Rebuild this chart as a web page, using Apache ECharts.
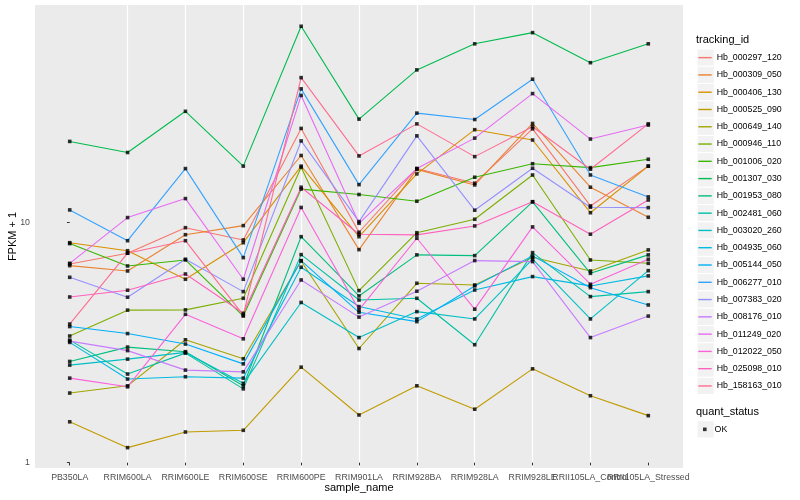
<!DOCTYPE html>
<html><head><meta charset="utf-8">
<script src="https://cdn.jsdelivr.net/npm/echarts@6/dist/echarts.min.js"></script>
<style>html,body{margin:0;padding:0;background:#fff}#c{width:800px;height:500px}</style>
</head><body><div id="c"></div>
<script>
// ---- data (FPKM + 1) ----
const samples = ["PB350LA","RRIM600LA","RRIM600LE","RRIM600SE","RRIM600PE","RRIM901LA","RRIM928BA","RRIM928LA","RRIM928LE","RRII105LA_Control","RRII105LA_Stressed"];
const trackingIds = ["Hb_000297_120","Hb_000309_050","Hb_000406_130","Hb_000525_090","Hb_000649_140","Hb_000946_110","Hb_001006_020","Hb_001307_030","Hb_001953_080","Hb_002481_060","Hb_003020_260","Hb_004935_060","Hb_005144_050","Hb_006277_010","Hb_007383_020","Hb_008176_010","Hb_011249_020","Hb_012022_050","Hb_025098_010","Hb_158163_010"];
const hb_000297_120 = [6.73, 7.46, 9.53, 8.47, 24.7, 9.12, 16.8, 14.6, 24.6, 11.74, 17.2];
const hb_000309_050 = [6.62, 6.29, 8.91, 9.72, 19.05, 7.72, 16.67, 14.36, 25.9, 14.05, 10.53];
const hb_000406_130 = [8.25, 7.64, 5.81, 8.25, 17.2, 8.74, 15.96, 24.4, 22.1, 11.0, 17.2];
const hb_000525_090 = [1.48, 1.155, 1.342, 1.364, 2.50, 1.58, 2.09, 1.67, 2.46, 1.90, 1.57];
const hb_000649_140 = [1.95, 2.09, 3.25, 2.71, 6.92, 2.99, 5.59, 5.50, 7.17, 6.29, 7.70];
const hb_000946_110 = [3.37, 4.32, 4.33, 4.84, 17.0, 5.21, 9.08, 10.33, 15.8, 6.99, 6.77];
const hb_001006_020 = [8.18, 6.60, 6.99, 4.08, 13.8, 13.1, 12.28, 15.46, 17.6, 16.95, 18.37];
const hb_001307_030 = [21.8, 19.6, 29.1, 17.2, 65.8, 27.0, 43.3, 55.6, 61.9, 46.4, 55.6];
const hb_001953_080 = [2.64, 3.03, 2.90, 2.09, 8.74, 4.95, 7.34, 7.29, 12.2, 6.15, 7.34];
const hb_002481_060 = [3.24, 2.34, 2.86, 2.03, 7.36, 4.76, 4.84, 3.10, 7.50, 4.92, 5.16];
const hb_003020_260 = [2.55, 2.70, 2.88, 2.14, 4.65, 3.32, 4.26, 3.97, 7.04, 3.97, 6.31];
const hb_004935_060 = [3.17, 2.23, 2.28, 2.25, 6.52, 4.47, 3.97, 5.24, 5.96, 5.45, 6.00];
const hb_005144_050 = [3.69, 3.45, 3.12, 2.58, 6.95, 4.23, 3.87, 5.45, 7.27, 5.36, 4.54];
const hb_006277_010 = [11.3, 8.41, 16.8, 7.15, 36.1, 14.4, 28.6, 26.9, 39.6, 15.8, 12.8];
const hb_007383_020 = [5.92, 4.89, 7.04, 5.16, 21.9, 10.1, 23.0, 11.27, 16.85, 11.6, 11.55];
const hb_008176_010 = [3.21, 2.93, 2.43, 2.39, 5.77, 4.04, 5.18, 6.95, 6.88, 3.32, 4.08];
const hb_011249_020 = [6.77, 10.5, 12.6, 5.81, 33.9, 9.94, 16.8, 22.5, 34.5, 22.3, 25.5];
const hb_012022_050 = [2.25, 2.07, 4.15, 3.28, 11.57, 4.33, 8.61, 4.36, 9.60, 5.54, 7.04];
const hb_025098_010 = [4.90, 5.23, 6.11, 4.19, 14.05, 8.95, 8.89, 9.69, 12.23, 8.95, 12.43];
const hb_158163_010 = [3.78, 7.46, 8.41, 4.12, 40.2, 18.97, 25.8, 18.84, 25.1, 16.7, 25.8];
const yMajorTicks = [1, 10];
const yMinorTicks = [3.1623, 31.623];
const yLimits = [0.95, 80.7];

const seriesValues = [hb_000297_120, hb_000309_050, hb_000406_130, hb_000525_090, hb_000649_140, hb_000946_110, hb_001006_020, hb_001307_030, hb_001953_080, hb_002481_060, hb_003020_260, hb_004935_060, hb_005144_050, hb_006277_010, hb_007383_020, hb_008176_010, hb_011249_020, hb_012022_050, hb_025098_010, hb_158163_010];
const palette = ["#F8766D","#EA8331","#D89000","#C09B00","#A3A500","#7CAE00","#39B600","#00BB4E","#00BF7D","#00C1A3","#00BFC4","#00BAE0","#00B0F6","#35A2FF","#9590FF","#C77CFF","#E76BF3","#FA62DB","#FF62BC","#FF6C91"];

const FONT = "Liberation Sans, Arial, Helvetica, sans-serif";
const lg = v => Math.log10(v);
const xIdx = samples.map((s, i) => i);
// labels split over two axes so overlapping neighbours are both drawn (as in the original)
const xIdxEven = xIdx.filter(i => i % 2 === 0);
const xIdxOdd = xIdx.filter(i => i % 2 === 1);
const xMin = -0.6, xMax = samples.length - 1 + 0.6;

const lineSeries = trackingIds.map((id, k) => ({
  type: 'line', name: id, xAxisIndex: 0, yAxisIndex: 0,
  data: seriesValues[k].map((v, i) => [i, lg(v)]),
  showSymbol: false, symbol: 'none', silent: true,
  lineStyle: { color: palette[k], width: 1.1 },
  itemStyle: { color: palette[k] },
  emphasis: { disabled: true }, z: 2
}));
const pointData = [];
seriesValues.forEach(arr => arr.forEach((v, i) => pointData.push([i, lg(v)])));
const pointSeries = {
  type: 'scatter', name: 'OK', data: pointData, symbol: 'rect', symbolSize: 3.6,
  itemStyle: { color: '#000' }, silent: true, z: 5, emphasis: { disabled: true }
};

// legend key backgrounds
const keyH = 17.28, keyTop = 49;
const keyRects = trackingIds.map((id, k) => ({
  type: 'rect', shape: { x: 697, y: keyTop + k * keyH, width: keyH, height: keyH },
  style: { fill: '#F2F2F2', stroke: '#fff', lineWidth: 1 }, z: 0, silent: true
}));
keyRects.push({ type: 'rect', shape: { x: 697, y: 420.7, width: keyH, height: keyH },
  style: { fill: '#F2F2F2', stroke: '#fff', lineWidth: 1 }, z: 0, silent: true });

const labelStyle = { fontSize: 8.8, color: '#4D4D4D', margin: 5, fontFamily: FONT,
  showMinLabel: true, showMaxLabel: true, hideOverlap: false,
  formatter: v => samples[Math.round(v)] || '' };

const chart = echarts.init(document.getElementById('c'), null, { renderer: 'canvas' });
chart.setOption({
  animation: false,
  backgroundColor: '#fff',
  textStyle: { fontFamily: FONT },
  title: [
    { text: 'tracking_id', left: 696, top: 34, padding: 0, textStyle: { fontSize: 11, fontWeight: 'normal', color: '#000', fontFamily: FONT } },
    { text: 'quant_status', left: 696, top: 406, padding: 0, textStyle: { fontSize: 11, fontWeight: 'normal', color: '#000', fontFamily: FONT } }
  ],
  grid: { left: 35, right: 117, top: 5, bottom: 32, show: true, backgroundColor: '#EBEBEB', borderWidth: 0,
    containLabel: false, outerBoundsMode: 'none' },
  legend: [
    { data: trackingIds, orient: 'vertical', left: 698.3, top: keyTop, padding: 0, itemGap: 0,
      itemWidth: 13.4, itemHeight: 1.4, icon: 'rect', selectedMode: false,
      textStyle: { fontSize: 8.8, color: '#000', lineHeight: keyH, fontFamily: FONT } },
    { data: ['OK'], orient: 'vertical', left: 703, top: 420.7, padding: 0, itemGap: 0,
      itemWidth: 3.6, itemHeight: 3.6, icon: 'rect', selectedMode: false,
      textStyle: { fontSize: 8.8, color: '#000', lineHeight: keyH, padding: [0, 0, 0, 3], fontFamily: FONT } }
  ],
  graphic: keyRects,
  xAxis: [
    {
      type: 'value', min: xMin, max: xMax, position: 'bottom',
      name: 'sample_name', nameLocation: 'middle', nameGap: 14, nameMoveOverlap: false,
      nameTextStyle: { fontSize: 11, color: '#000', fontFamily: FONT, verticalAlign: 'top' },
      axisLine: { show: false },
      axisTick: { show: true, length: 2.75, lineStyle: { color: '#333333', width: 1 }, customValues: xIdx },
      axisLabel: Object.assign({ customValues: xIdxEven }, labelStyle),
      splitLine: { show: true, lineStyle: { color: '#fff', width: 1.2 }, showMinLine: false, showMaxLine: false }
    },
    {
      type: 'value', min: xMin, max: xMax, position: 'bottom', offset: 0,
      axisLine: { show: false },
      axisTick: { show: false, customValues: xIdxOdd },
      axisLabel: Object.assign({ customValues: xIdxOdd }, labelStyle),
      splitLine: { show: false }
    }
  ],
  yAxis: [
    {
      type: 'value', min: lg(yLimits[0]), max: lg(yLimits[1]),
      name: 'FPKM + 1', nameLocation: 'middle', nameGap: 17, nameRotate: 90, nameMoveOverlap: false,
      nameTextStyle: { fontSize: 11, color: '#000', fontFamily: FONT },
      axisLine: { show: false },
      axisTick: { show: true, length: 2.75, lineStyle: { color: '#333333', width: 1 }, customValues: yMajorTicks.map(lg) },
      axisLabel: { customValues: yMajorTicks.map(lg), fontSize: 8.8, color: '#4D4D4D', margin: 5, fontFamily: FONT,
        showMinLabel: true, showMaxLabel: true,
        formatter: v => String(Math.round(Math.pow(10, v))) },
      splitLine: { show: true, lineStyle: { color: '#fff', width: 1.2 }, showMinLine: false, showMaxLine: false }
    },
    {
      type: 'value', min: lg(yLimits[0]), max: lg(yLimits[1]), position: 'left',
      axisLine: { show: false },
      axisTick: { show: false, customValues: yMinorTicks.map(lg) },
      axisLabel: { show: false, customValues: yMinorTicks.map(lg) },
      splitLine: { show: true, lineStyle: { color: '#fff', width: 0.6 }, showMinLine: false, showMaxLine: false }
    }
  ],
  series: lineSeries.concat([pointSeries])
});
</script></body></html>
